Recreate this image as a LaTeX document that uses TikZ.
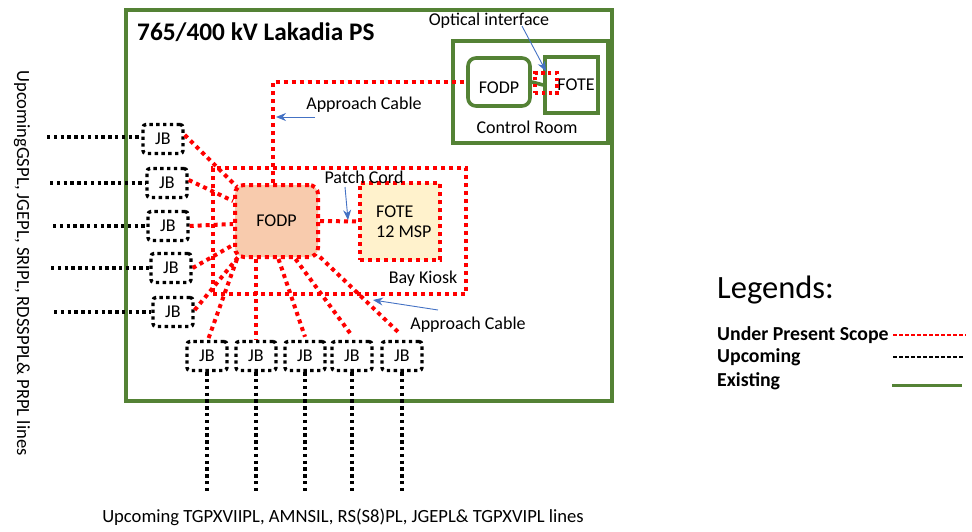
\documentclass[tikz,border=0pt]{standalone}
\usepackage{fontspec}
\setmainfont{Carlito}
\usetikzlibrary{arrows.meta}
\definecolor{offgreen}{HTML}{548235}
\definecolor{offblue}{HTML}{4472C4}
\definecolor{fodpfill}{HTML}{F8CBAD}
\definecolor{fotefill}{HTML}{FFF2CC}
\tikzset{
  redl/.style={draw=red, line width=4pt, dash pattern=on 4pt off 4pt},
  blkl/.style={draw=black, line width=3.4pt, dash pattern=on 3.4pt off 3.4pt},
  grn/.style={draw=offgreen, line width=3.6pt},
  jbbox/.style={blkl, rounded corners=3pt, minimum width=40pt, minimum height=29pt, inner sep=0pt, font=\fontsize{18}{20}\selectfont},
  bluearr/.style={draw=offblue, line width=0.9pt, -{Stealth[length=10pt,width=8pt]}},
  lbl/.style={font=\fontsize{18}{20}\selectfont, inner sep=0pt},
  lbltext/.style={font=\fontsize{18.6}{20}\selectfont, inner sep=0pt},
}
\begin{document}
\begin{tikzpicture}[x=1pt,y=-1pt]
\useasboundingbox (0,0) rectangle (972,532);
% outer station
\node[grn, minimum width=486pt, minimum height=391pt, inner sep=0pt] (ps) at (369,205.5) {};
\node[anchor=west, font=\bfseries\fontsize{25.3}{28}\selectfont, inner sep=0pt] (title) at (137,32) {765/400 kV Lakadia PS};
% control room
\node[grn, minimum width=155pt, minimum height=102pt, inner sep=0pt] (cr) at (530.5,92) {};
\node[lbl] (crl) at (527,127) {Control Room};
\node[grn, rounded corners=8pt, minimum width=62pt, minimum height=48pt, inner sep=0pt] (cfodp) at (499,82) {};
\node[lbl] at (499,88) {FODP};
\node[grn, minimum width=53pt, minimum height=56pt, inner sep=0pt] (cfote) at (571.5,85) {};
\node[lbl] at (576,85) {FOTE};
\draw[grn] (cfodp.east) -- (cfote.west);
\node[redl, line width=3.4pt, dash pattern=on 3.4pt off 3.4pt, minimum width=22pt, minimum height=20pt, inner sep=0pt] (oi) at (546,83) {};
\node[lbl] (oil) at (489,21) {Optical interface};
\coordinate (oia) at (522,26);
\draw[bluearr] (oia) -- (oi.north);
% bay kiosk
\node[redl, minimum width=253pt, minimum height=126pt, inner sep=0pt] (bk) at (339.5,231) {};
\node[lbl] (bkl) at (423,279) {Bay Kiosk};
\node[redl, fill=fodpfill, rounded corners=9pt, minimum width=83pt, minimum height=72pt, inner sep=0pt] (fodp) at (276.5,221) {};
\node[lbl] at (276.5,221) {FODP};
\node[redl, fill=fotefill, minimum width=80pt, minimum height=77pt, inner sep=0pt] (fote) at (400,221.5) {};
\node[lbl, align=left, anchor=west] at (376,221.5) {FOTE\\12 MSP};
\draw[redl] (fodp.east) -- (fote.west);
\node[lbl] (pcl) at (364,177) {Patch Cord};
\coordinate (pca) at (345,187);
\draw[bluearr] (pca) -- (348,220);
% approach cable up
\draw[redl] ([xshift=-4pt]fodp.north) |- (cfodp.west);
\node[lbl] (ac1) at (364,105) {Approach Cable};
\coordinate (ac1a) at (315,117);
\coordinate (ac1b) at (276,117);
\draw[bluearr] (ac1a) -- (ac1b);
% approach cable lower
\node[lbl] (ac2) at (468,325) {Approach Cable};
\coordinate (ac2a) at (438,310);
\coordinate (ac2b) at (373,300);
\draw[bluearr] (ac2a) -- (ac2b);
% left JBs
\node[jbbox] (j1) at (163,139) {JB};
\node[jbbox] (j2) at (167,183) {JB};
\node[jbbox] (j3) at (168,226) {JB};
\node[jbbox] (j4) at (171,268) {JB};
\node[jbbox] (j5) at (173,312) {JB};
\coordinate (l1) at (47,137);
\coordinate (l2) at (50,183);
\coordinate (l3) at (53,226);
\coordinate (l4) at (51,268);
\coordinate (l5) at (54,312);
\foreach \i in {1,...,5} \draw[blkl] (l\i) -- (l\i -| j\i.west);
% bottom JBs
\node[jbbox] (b1) at (207,356) {JB};
\node[jbbox] (b2) at (256,356) {JB};
\node[jbbox] (b3) at (305,356) {JB};
\node[jbbox] (b4) at (352,356) {JB};
\node[jbbox] (b5) at (402,356) {JB};
\foreach \i in {1,...,5} {
  \coordinate (e\i) at ([yshift=-122pt]b\i.south);
  \draw[blkl] (b\i.south) -- (e\i);
}
% red connections JB -> FODP
\draw[redl] ([yshift=4pt]j1.east) -- ([shift={(4pt,-4pt)}]fodp.north west);
\draw[redl] ([yshift=3pt]j2.east) -- ([yshift=-18pt]fodp.north west);
\draw[redl] (j3.east) -- ([yshift=-3pt]fodp.west);
\draw[redl] (j4.east) -- ([yshift=14pt]fodp.south west);
\draw[redl] ([yshift=2pt]j5.east) -- ([shift={(6pt,3pt)}]fodp.south west);
\draw[redl] ([xshift=4pt]fodp.south west) -- ([xshift=1pt]b1.north);
\draw[redl] (fodp.south -| b2.north) -- (b2.north);
\draw[redl] ([xshift=2pt]fodp.south) -- ([yshift=3pt]b3.north);
\draw[redl] ([xshift=19pt]fodp.south) -- ([yshift=4pt]b4.north);
\draw[redl] ([yshift=2pt]fodp.south east) -- ([shift={(-2pt,6pt)}]b5.north);
% side texts
\node[lbltext, rotate=-90] (lt) at (22,263) {UpcomingGSPL, JGEPL, SRIPL, RDSSPPL\& PRPL lines};
\node[lbltext] (bt) at (343,517) {Upcoming TGPXVIIPL, AMNSIL, RS(S8)PL, JGEPL\& TGPXVIPL lines};
% legends
\node[anchor=west, inner sep=0pt, font=\fontsize{32.5}{34}\selectfont] (lg) at (717,290) {Legends:};
\node[anchor=west, inner sep=0pt, font=\bfseries\fontsize{19.8}{21}\selectfont] (lg1) at (717,335) {Under Present Scope};
\node[anchor=west, inner sep=0pt, font=\bfseries\fontsize{19.8}{21}\selectfont] (lg2) at (717,357) {Upcoming};
\node[anchor=west, inner sep=0pt, font=\bfseries\fontsize{19.8}{21}\selectfont] (lg3) at (717,381) {Existing};
\coordinate (r1) at (893,335); \coordinate (r2) at (966,335);
\coordinate (k1) at (893,357); \coordinate (k2) at (963,357);
\coordinate (g1) at (892,385); \coordinate (g2) at (962,385);
\draw[red, line width=1.5pt, dash pattern=on 4pt off 2pt] (r1) -- (r2);
\draw[black, line width=1.5pt, dash pattern=on 4pt off 2pt] (k1) -- (k2);
\draw[offgreen, line width=3pt] (g1) -- (g2);
\end{tikzpicture}
\end{document}
